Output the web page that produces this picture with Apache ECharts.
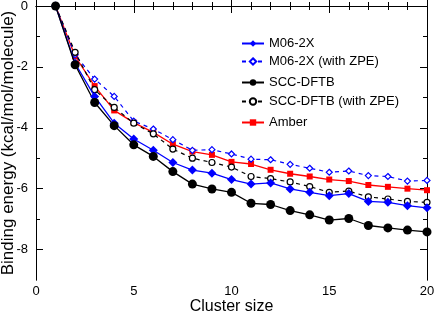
<!DOCTYPE html>
<html><head><meta charset="utf-8">
<script src="https://cdn.jsdelivr.net/npm/echarts@6/dist/echarts.min.js"></script>
<style>html,body{margin:0;padding:0;background:#fff}#c{width:436px;height:312px}</style>
</head><body><div id="c"></div>
<script>
const clusterSize = [1,2,3,4,5,6,7,8,9,10,11,12,13,14,15,16,17,18,19,20];
const m062x      = [0,-1.88,-2.97,-3.85,-4.37,-4.74,-5.14,-5.39,-5.49,-5.70,-5.85,-5.81,-6.01,-6.12,-6.23,-6.16,-6.42,-6.45,-6.56,-6.63];
const m062xZPE   = [0,-1.60,-2.40,-2.97,-3.78,-4.04,-4.39,-4.74,-4.72,-4.86,-5.03,-5.05,-5.20,-5.33,-5.46,-5.42,-5.57,-5.60,-5.75,-5.73];
const sccdftb    = [0,-1.93,-3.17,-3.93,-4.56,-4.94,-5.44,-5.85,-6.01,-6.12,-6.48,-6.52,-6.72,-6.86,-7.03,-6.98,-7.21,-7.29,-7.36,-7.42];
const sccdftbZPE = [0,-1.52,-2.75,-3.33,-3.85,-4.20,-4.70,-5.00,-5.14,-5.29,-5.60,-5.67,-5.78,-5.93,-6.12,-6.08,-6.27,-6.34,-6.42,-6.45];
const amber      = [0,-1.65,-2.63,-3.43,-3.83,-4.15,-4.54,-4.78,-4.89,-5.12,-5.19,-5.38,-5.51,-5.60,-5.70,-5.75,-5.88,-5.94,-6.00,-6.05];
const yMajor = [0,-2,-4,-6,-8];
const yMinor = [-1,-3,-5,-7];
const names = ['M06-2X','M06-2X (with ZPE)','SCC-DFTB','SCC-DFTB (with ZPE)','Amber'];

const font = 'Liberation Sans, Arial, Helvetica, sans-serif';
const pair = (arr) => clusterSize.map((x,i)=>[x,arr[i]]);
const chart = echarts.init(document.getElementById('c'), null, {renderer:'canvas'});
const axisLine = {show:true, lineStyle:{color:'#000', width:1}};
const xBase = {type:'value', min:0, max:20, interval:5, axisLine,
  axisTick:{show:true, inside:true, length:7, lineStyle:{color:'#000'}},
  minorTick:{show:true, splitNumber:5, length:4, lineStyle:{color:'#000'}},
  splitLine:{show:false}};
const yBase = (pos, vals, len, labels) => ({type:'value', min:-9, max:0, position:pos,
  axisLine: labels!==null ? axisLine : {show:false},
  axisTick:{show:true, inside:true, length:len, customValues:vals, lineStyle:{color:'#000'}},
  axisLabel: labels ? {show:true, customValues:yMajor, color:'#000', fontSize:13, fontFamily:font, margin:8} : {show:false},
  splitLine:{show:false}});

const legends = [39,57,78,97,118].map((cy,i)=>({
  data:[names[i]], left:236, top:cy-7, itemWidth:22, itemHeight:8, itemGap:4,
  textStyle:{fontSize:13, fontFamily:font, color:'#000'}, selectedMode:false
}));

chart.setOption({
  animation:false,
  backgroundColor:'#fff',
  grid:{left:36, right:9, top:6, bottom:32, containLabel:false, outerBoundsMode:'none'},
  legend: legends,
  xAxis:[
    Object.assign({}, xBase, {position:'bottom', name:'Cluster size', nameLocation:'middle', nameGap:19, nameMoveOverlap:false,
      nameTextStyle:{fontSize:16, fontFamily:font, color:'#000'},
      axisLabel:{color:'#000', fontSize:13, fontFamily:font, margin:5}}),
    Object.assign({}, xBase, {position:'top', axisLabel:{show:false}})
  ],
  yAxis:[
    Object.assign(yBase('left', yMajor, 7, true), {name:'Binding energy (kcal/mol/molecule)', nameLocation:'middle', nameGap:19, nameMoveOverlap:false,
      nameTextStyle:{fontSize:17, fontFamily:font, color:'#000'}}),
    yBase('left', yMinor, 4, false),
    yBase('right', yMajor, 7, false),
    yBase('right', yMinor, 4, false)
  ],
  series:[
    {name:names[4], type:'line', data:pair(amber), symbol:'rect', symbolSize:6,
      itemStyle:{color:'#ff0000'}, lineStyle:{color:'#ff0000', width:1.3}, z:3},
    {name:names[1], type:'line', data:pair(m062xZPE), symbol:'diamond', symbolSize:6,
      itemStyle:{color:'#fff', borderColor:'#0000ff', borderWidth:1.2},
      lineStyle:{color:'#0000ff', width:1.2, type:[4,4]}, z:4},
    {name:names[3], type:'line', data:pair(sccdftbZPE), symbol:'circle', symbolSize:6,
      itemStyle:{color:'#fff', borderColor:'#000', borderWidth:1.2},
      lineStyle:{color:'#000', width:1.2, type:[4,4]}, z:4},
    {name:names[0], type:'line', data:pair(m062x), symbol:'diamond', symbolSize:9,
      itemStyle:{color:'#0000ff'}, lineStyle:{color:'#0000ff', width:1.3}, z:5},
    {name:names[2], type:'line', data:pair(sccdftb), symbol:'circle', symbolSize:9,
      itemStyle:{color:'#000'}, lineStyle:{color:'#000', width:1.3}, z:5}
  ]
});
</script></body></html>
